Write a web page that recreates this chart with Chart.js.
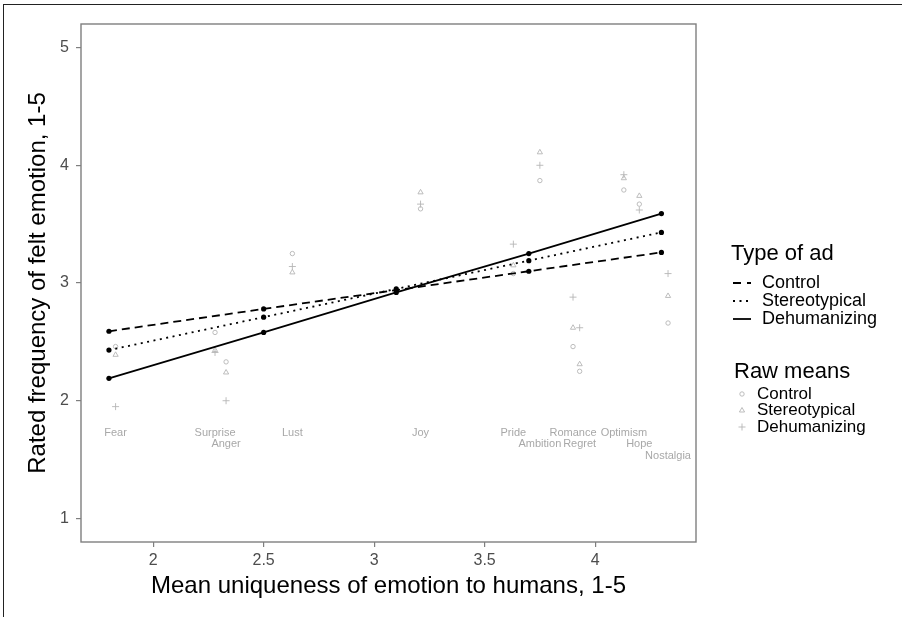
<!DOCTYPE html>
<html>
<head>
<meta charset="utf-8">
<script src="https://cdn.jsdelivr.net/npm/chart.js@4.4.1/dist/chart.umd.min.js"></script>
<style>
    html, body { margin: 0; padding: 0; background: #fff; }
    #wrap { position: relative; width: 902px; height: 617px; overflow: hidden; }
    #frame { position: absolute; left: 3px; top: 4px; width: 940px; height: 660px; border-top: 1.5px solid #222; border-left: 1.5px solid #222; }
    canvas { position: absolute; left: 0; top: 0; }
</style>
</head>
<body>
<div id="wrap"><div id="frame"></div><canvas id="chart" width="902" height="617"></canvas></div>
<script>
// fitted lines (predicted at 5 uniqueness values)
const fitX = [1.8, 2.5, 3.1, 3.7, 4.3];
const fitControl = [2.59, 2.78, 2.94, 3.10, 3.26];
const fitStereo = [2.43, 2.71, 2.95, 3.19, 3.43];
const fitDehum = [2.19, 2.58, 2.92, 3.25, 3.59];

// raw means per emotion
const emotions = ['Fear', 'Surprise', 'Anger', 'Lust', 'Joy', 'Pride', 'Ambition', 'Romance', 'Regret', 'Optimism', 'Hope', 'Nostalgia'];
const emoX = [1.83, 2.28, 2.33, 2.63, 3.21, 3.63, 3.75, 3.90, 3.93, 4.13, 4.20, 4.33];
const rawControl = [2.46, 2.58, 2.33, 3.25, 3.63, 3.08, 3.87, 2.46, 2.25, 3.79, 3.67, 2.66];
const rawStereo = [2.39, 2.43, 2.24, 3.09, 3.77, 3.15, 4.11, 2.62, 2.31, 3.89, 3.74, 2.89];
const rawDehum = [1.95, 2.41, 2.00, 3.14, 3.67, 3.33, 4.00, 2.88, 2.62, 3.92, 3.62, 3.08];
const labelRow = [0, 0, 1, 0, 0, 0, 1, 0, 1, 0, 1, 2];

const xTicks = [2, 2.5, 3, 3.5, 4];
const yTicks = [1, 2, 3, 4, 5];

const FONT = '"Liberation Sans", Arial, Helvetica, sans-serif';
const GREY = '#b5b5b5';

const pts = (xs, ys) => xs.map((x, i) => ({ x, y: ys[i] }));

function fitLine(label, ys, dash) {
    return {
        type: 'line', label, data: pts(fitX, ys),
        borderColor: '#000', backgroundColor: '#000', borderWidth: 1.8, borderDash: dash,
        pointRadius: 2.6, pointBorderWidth: 0, pointBackgroundColor: '#000',
        showLine: true, order: 1,
    };
}

function rawPoints(label, ys, style, r) {
    return {
        type: 'scatter', label, data: pts(emoX, ys),
        pointStyle: style, pointRadius: r, pointBorderWidth: 0.9,
        borderColor: GREY, backgroundColor: 'transparent', order: 2,
    };
}

const decor = {
    id: 'decor',
    afterDraw(chart) {
        const { ctx, chartArea: a, scales } = chart;
        ctx.save();
        // panel border
        ctx.strokeStyle = '#7f7f7f';
        ctx.lineWidth = 1.4;
        ctx.strokeRect(a.left, a.top, a.right - a.left, a.bottom - a.top);

        // emotion labels
        ctx.font = '11px ' + FONT;
        ctx.fillStyle = '#a8a8a8';
        ctx.textAlign = 'center';
        ctx.textBaseline = 'middle';
        const y0 = scales.y.getPixelForValue(1.73);
        emotions.forEach((e, i) => ctx.fillText(e, scales.x.getPixelForValue(emoX[i]), y0 + labelRow[i] * 11.5));

        // axis titles
        ctx.fillStyle = '#000';
        ctx.font = '24px ' + FONT;
        ctx.fillText('Mean uniqueness of emotion to humans, 1-5', (a.left + a.right) / 2, 586);
        ctx.save();
        ctx.translate(38, (a.top + a.bottom) / 2);
        ctx.rotate(-Math.PI / 2);
        ctx.fillText('Rated frequency of felt emotion, 1-5', 0, 0);
        ctx.restore();

        // legend: Type of ad
        ctx.textAlign = 'left';
        ctx.font = '22px ' + FONT;
        ctx.fillText('Type of ad', 731, 254);
        const lineKeys = [['Control', [8, 6]], ['Stereotypical', [2, 4.5]], ['Dehumanizing', []]];
        ctx.font = '18px ' + FONT;
        lineKeys.forEach(([name, dash], i) => {
            const y = 283 + i * 18;
            ctx.setLineDash(dash);
            ctx.strokeStyle = '#000';
            ctx.lineWidth = 1.8;
            ctx.beginPath(); ctx.moveTo(733, y); ctx.lineTo(751, y); ctx.stroke();
            ctx.setLineDash([]);
            ctx.fillText(name, 762, y);
        });

        // legend: Raw means
        ctx.font = '22px ' + FONT;
        ctx.fillText('Raw means', 734, 372);
        ctx.font = '17px ' + FONT;
        const symKeys = [['Control', 'circle', 2.2], ['Stereotypical', 'triangle', 3], ['Dehumanizing', 'cross', 3.5]];
        symKeys.forEach(([name, style, r], i) => {
            const y = 394 + i * 16.5;
            ctx.fillStyle = 'rgba(0,0,0,0)';
            ctx.strokeStyle = GREY;
            ctx.lineWidth = 0.9;
            Chart.helpers.drawPoint(ctx, { pointStyle: style, radius: r, borderWidth: 0.9 }, 742, y);
            ctx.fillStyle = '#000';
            ctx.fillText(name, 757, y);
        });
        ctx.restore();
    },
};

new Chart(document.getElementById('chart'), {
    data: {
        datasets: [
            fitLine('Control', fitControl, [8, 5]),
            fitLine('Stereotypical', fitStereo, [2, 4.5]),
            fitLine('Dehumanizing', fitDehum, []),
            rawPoints('Control raw', rawControl, 'circle', 2.2),
            rawPoints('Stereotypical raw', rawStereo, 'triangle', 3),
            rawPoints('Dehumanizing raw', rawDehum, 'cross', 3.5),
        ],
    },
    options: {
        responsive: false, animation: false, devicePixelRatio: 1,
        layout: { padding: { top: 24, right: 206, bottom: 0, left: 0 } },
        plugins: { legend: { display: false }, tooltip: { enabled: false } },
        scales: {
            x: {
                type: 'linear', min: 1.6735, max: 4.4565,
                afterBuildTicks: (s) => { s.ticks = xTicks.map((v) => ({ value: v })); },
                afterFit: (s) => { s.height = 75; },
                grid: { drawOnChartArea: false, drawTicks: true, tickLength: 5, color: '#7f7f7f', lineWidth: 1.2 },
                border: { display: false },
                ticks: { padding: 4, color: '#4d4d4d', font: { family: FONT, size: 16 }, maxRotation: 0, callback: (v) => String(v) },
            },
            y: {
                type: 'linear', min: 0.8, max: 5.2,
                afterBuildTicks: (s) => { s.ticks = yTicks.map((v) => ({ value: v })); },
                afterFit: (s) => { s.width = 81; },
                grid: { drawOnChartArea: false, drawTicks: true, tickLength: 5, color: '#7f7f7f', lineWidth: 1.2 },
                border: { display: false },
                ticks: { padding: 7, color: '#4d4d4d', font: { family: FONT, size: 16 }, callback: (v) => String(v) },
            },
        },
    },
    plugins: [decor],
});
</script>
</body>
</html>
